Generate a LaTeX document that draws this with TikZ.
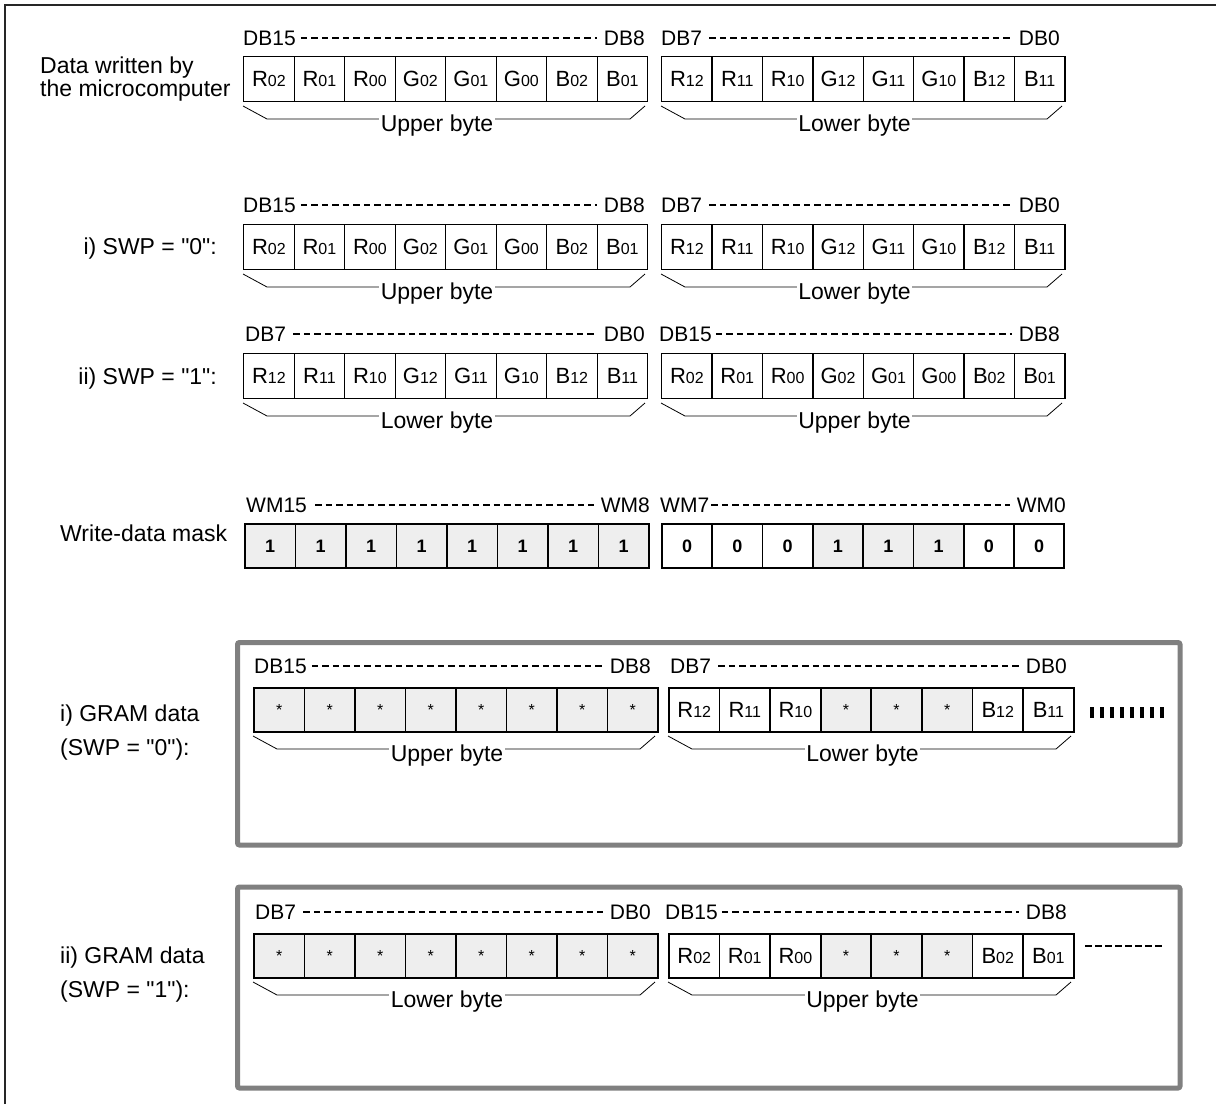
\documentclass[tikz,border=0pt]{standalone}
\usepackage{fontspec}
\setmainfont{Liberation Sans}[Ligatures=TeXOff]
\definecolor{cg}{RGB}{238,238,238}
\definecolor{framegray}{RGB}{128,128,128}
\newcommand\subd[1]{{\fontsize{16}{16}\selectfont #1}}
\newcommand\stx{{\fontsize{16}{16}\selectfont *}}
\tikzset{
  x=1pt, y=-1pt,
  lbl/.style={font=\fontsize{21}{21}\selectfont, inner sep=0pt},
  txt/.style={font=\fontsize{23}{23}\selectfont, inner sep=0pt},
  cellbase/.style={draw=black, anchor=north west, inner sep=0pt, font=\fontsize{22}{22}\selectfont},
  datacell/.style={cellbase, line width=1.3pt, minimum height=45pt},
  maskcell/.style={cellbase, line width=1.8pt, minimum height=44pt, font=\bfseries\fontsize{18}{18}\selectfont},
  gramcell/.style={cellbase, line width=1.8pt, minimum height=44pt},
  dashl/.style={line width=2.8pt, dash pattern=on 6.5pt off 4pt},
  bracel/.style={line width=0.8pt},
  gramframe/.style={draw=framegray, line width=5pt, rounded corners=2pt},
}
% #1 name, #2 style, #3 x0, #4 y0, #5 cell width, #6 list content/fill
\newcommand\byterow[6]{%
  \foreach \c/\f [count=\i] in {#6}
    \node[#2, fill=\f, minimum width=#5pt] (#1\i) at ({#3+(\i-1)*#5}, #4) {\c};
}
% #1 name, #2 xL, #3 xR, #4 ybottom, #5 text
\newcommand\bytebrace[5]{%
  \coordinate (#1a) at (#2,#4+5);
  \coordinate (#1b) at (#2+24,#4+18);
  \coordinate (#1c) at (#3-17,#4+18);
  \coordinate (#1d) at (#3-2,#4+5);
  \draw[bracel] (#1a) -- (#1b) -- (#1c) -- (#1d);
  \node[txt, anchor=base, fill=white, inner xsep=1.5pt] (#1) at ({(#2+#3)/2-8}, #4+30.5) {#5};
}
% #1 name, #2 xL, #3 xR, #4 ybase, #5 left text, #6 right text, #7 left gap
\newcommand\bitlbl[7]{%
  \node[lbl, anchor=base west] (#1l) at (#2,#4) {#5};
  \node[lbl, anchor=base east] (#1r) at (#3,#4) {#6};
  \draw[dashl] ([xshift=#7pt,yshift=7pt]#1l.base east) -- ([xshift=-7pt,yshift=7pt]#1r.base west);
}
\begin{document}
\begin{tikzpicture}
\useasboundingbox (0,0) rectangle (1216,1104);
% outer frame (top and left edges)
\coordinate (fa) at (5,1104);
\coordinate (fb) at (5,5);
\coordinate (fc) at (1216,5);
\draw[line width=1.5pt, black!85] (fa) -- (fb) -- (fc);

% ---------- Row 1: data written by the microcomputer ----------
\node[txt, anchor=base west] (t1a) at (40,73) {Data written by};
\node[txt, anchor=base west] (t1b) at (40,96) {the microcomputer};
\bitlbl{l1a}{243}{645}{45}{DB15}{DB8}{5}
\bitlbl{l1b}{661}{1060}{45}{DB7~}{DB0}{7}
\byterow{c1a}{datacell}{243}{56}{50.5}{R\subd{02}/white, R\subd{01}/white, R\subd{00}/white, G\subd{02}/white, G\subd{01}/white, G\subd{00}/white, B\subd{02}/white, B\subd{01}/white}
\byterow{c1b}{datacell}{661}{56}{50.4}{R\subd{12}/white, R\subd{11}/white, R\subd{10}/white, G\subd{12}/white, G\subd{11}/white, G\subd{10}/white, B\subd{12}/white, B\subd{11}/white}
\bytebrace{b1a}{243}{647}{101}{Upper byte}
\bytebrace{b1b}{661}{1064}{101}{Lower byte}

% ---------- Row 2: SWP = 0 ----------
\node[txt, anchor=base east] (t2) at (217,254) {i) SWP = "0":};
\bitlbl{l2a}{243}{645}{212}{DB15}{DB8}{5}
\bitlbl{l2b}{661}{1060}{212}{DB7~}{DB0}{7}
\byterow{c2a}{datacell}{243}{224}{50.5}{R\subd{02}/white, R\subd{01}/white, R\subd{00}/white, G\subd{02}/white, G\subd{01}/white, G\subd{00}/white, B\subd{02}/white, B\subd{01}/white}
\byterow{c2b}{datacell}{661}{224}{50.4}{R\subd{12}/white, R\subd{11}/white, R\subd{10}/white, G\subd{12}/white, G\subd{11}/white, G\subd{10}/white, B\subd{12}/white, B\subd{11}/white}
\bytebrace{b2a}{243}{647}{269}{Upper byte}
\bytebrace{b2b}{661}{1064}{269}{Lower byte}

% ---------- Row 3: SWP = 1 ----------
\node[txt, anchor=base east] (t3) at (217,384) {ii) SWP = "1":};
\bitlbl{l3a}{245}{645}{341}{DB7~}{DB0}{7}
\bitlbl{l3b}{659}{1060}{341}{DB15}{DB8}{4}
\byterow{c3a}{datacell}{243}{353}{50.5}{R\subd{12}/white, R\subd{11}/white, R\subd{10}/white, G\subd{12}/white, G\subd{11}/white, G\subd{10}/white, B\subd{12}/white, B\subd{11}/white}
\byterow{c3b}{datacell}{661}{353}{50.4}{R\subd{02}/white, R\subd{01}/white, R\subd{00}/white, G\subd{02}/white, G\subd{01}/white, G\subd{00}/white, B\subd{02}/white, B\subd{01}/white}
\bytebrace{b3a}{243}{647}{398}{Lower byte}
\bytebrace{b3b}{661}{1064}{398}{Upper byte}

% ---------- Row 4: write-data mask ----------
\node[txt, anchor=base west] (t4) at (60,541) {Write-data mask};
\bitlbl{l4a}{246}{650}{512}{WM15}{WM8}{8}
\bitlbl{l4b}{660}{1066}{512}{WM7}{WM0}{2}
\byterow{c4a}{maskcell}{244}{523}{50.5}{1/cg, 1/cg, 1/cg, 1/cg, 1/cg, 1/cg, 1/cg, 1/cg}
\byterow{c4b}{maskcell}{661}{523}{50.3}{0/white, 0/white, 0/white, 1/cg, 1/cg, 1/cg, 0/white, 0/white}

% ---------- GRAM i ----------
\draw[gramframe] (237.5,642.5) rectangle (1180,845);
\node[txt, anchor=base west] (t5a) at (60,721) {i) GRAM data};
\node[txt, anchor=base west] (t5b) at (60,755) {(SWP = "0"):};
\bitlbl{l5a}{254}{651}{673}{DB15}{DB8}{5}
\bitlbl{l5b}{670}{1067}{673}{DB7~}{DB0}{7}
\byterow{c5a}{gramcell}{253}{687}{50.5}{\stx/cg, \stx/cg, \stx/cg, \stx/cg, \stx/cg, \stx/cg, \stx/cg, \stx/cg}
\byterow{c5b}{gramcell}{668}{687}{50.6}{R\subd{12}/white, R\subd{11}/white, R\subd{10}/white, \stx/cg, \stx/cg, \stx/cg, B\subd{12}/white, B\subd{11}/white}
\bytebrace{b5a}{253}{657}{731}{Upper byte}
\bytebrace{b5b}{668}{1073}{731}{Lower byte}
\coordinate (d1s) at (1090,712);
\coordinate (d1e) at (1168,712);
\draw[line width=11pt, dash pattern=on 4pt off 6pt] (d1s) -- (d1e);

% ---------- GRAM ii ----------
\draw[gramframe] (237.5,887) rectangle (1180,1088);
\node[txt, anchor=base west] (t6a) at (60,963) {ii) GRAM data};
\node[txt, anchor=base west] (t6b) at (60,997) {(SWP = "1"):};
\bitlbl{l6a}{255}{651}{919}{DB7~}{DB0}{7}
\bitlbl{l6b}{665}{1067}{919}{DB15}{DB8}{4}
\byterow{c6a}{gramcell}{253}{933}{50.5}{\stx/cg, \stx/cg, \stx/cg, \stx/cg, \stx/cg, \stx/cg, \stx/cg, \stx/cg}
\byterow{c6b}{gramcell}{668}{933}{50.6}{R\subd{02}/white, R\subd{01}/white, R\subd{00}/white, \stx/cg, \stx/cg, \stx/cg, B\subd{02}/white, B\subd{01}/white}
\bytebrace{b6a}{253}{657}{977}{Lower byte}
\bytebrace{b6b}{668}{1073}{977}{Upper byte}
\coordinate (d2s) at (1085,946);
\coordinate (d2e) at (1164,946);
\draw[line width=1.8pt, dash pattern=on 6.5pt off 3.5pt] (d2s) -- (d2e);
\end{tikzpicture}
\end{document}
